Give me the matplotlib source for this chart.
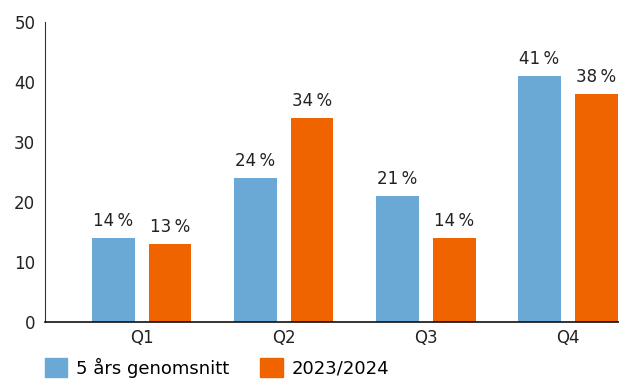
import numpy as np
import matplotlib.pyplot as plt
from matplotlib.patches import Patch

quarters = ["Q1", "Q2", "Q3", "Q4"]
avg_5y = [14, 24, 21, 41]
season = [13, 34, 14, 38]
labels = ["5 års genomsnitt", "2023/2024"]

blue = "#6aa9d5"
orange = "#f06400"

plt.rcParams['font.family'] = ['DejaVu Sans']

fig = plt.figure(figsize=(6.19, 3.85), dpi=100)
ax = fig.add_axes([45 / 619, 1 - 322 / 385, 574 / 619, 300 / 385])

x = np.arange(len(quarters))
w = 0.3
off = 0.2
b1 = ax.bar(x - off, avg_5y, w, color=blue)
b2 = ax.bar(x + off, season, w, color=orange)

for bars, vals in ((b1, avg_5y), (b2, season)):
    for b, v in zip(bars, vals):
        ax.text(b.get_x() + b.get_width() / 2, v + 1.3, f"{v}\u2009%",
                ha="center", va="bottom", fontsize=12, color="#222222")

ax.set_ylim(0, 50)
ax.set_xlim(-0.68, 3.36)
ax.set_yticks([0, 10, 20, 30, 40, 50])
ax.set_xticks(x)
ax.set_xticklabels(quarters)
ax.tick_params(length=0, labelsize=12, colors="#222222")
ax.tick_params(axis="y", pad=7)
ax.tick_params(axis="x", pad=5)
for s in ("top", "right"):
    ax.spines[s].set_visible(False)
ax.spines["left"].set_color("#333333")
ax.spines["bottom"].set_color("#111111")
ax.spines["bottom"].set_linewidth(1.2)

handles = [Patch(color=blue), Patch(color=orange)]
fig.legend(handles, labels, loc="lower left", bbox_to_anchor=(45 / 619 - 0.012, 0.0),
           ncol=2, frameon=False, fontsize=13, handlelength=1.25, handleheight=1.25,
           handletextpad=0.5, columnspacing=1.7, borderaxespad=0)

fig.savefig("out.png", dpi=100)
